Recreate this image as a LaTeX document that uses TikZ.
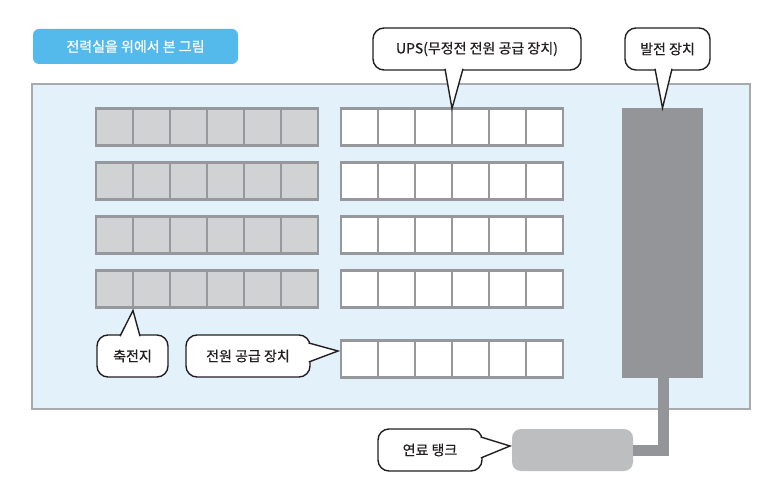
\documentclass[tikz,border=0pt]{standalone}
\usepackage{fontspec}
\setmainfont{Noto Sans CJK KR}
\newfontfamily\medfont{Noto Sans CJK KR}[FakeBold=0.7]
\usetikzlibrary{calc}
\definecolor{titleblue}{RGB}{84,186,236}
\definecolor{roomfill}{RGB}{227,241,251}
\definecolor{roomline}{RGB}{168,170,173}
\definecolor{cellgray}{RGB}{209,210,212}
\definecolor{cellline}{RGB}{151,152,155}
\definecolor{gengray}{RGB}{147,149,152}
\definecolor{tankgray}{RGB}{188,190,192}
\definecolor{inkline}{RGB}{35,31,32}
\newcommand\calltail[3]{%
  \fill[white] (#1) -- (#2) -- (#3) -- cycle;
  \draw[tailline] (#1) -- (#2) -- (#3);}
\begin{document}
\begin{tikzpicture}[x=1pt,y=-1pt,
  every node/.style={inner sep=0pt,outer sep=0pt},
  titlebox/.style={fill=titleblue,rounded corners=6pt,text=white,
    font=\medfont\fontsize{14}{16}\selectfont,minimum width=205pt,minimum height=35pt},
  room/.style={fill=roomfill,draw=roomline,line width=1.2pt},
  gcell/.style={fill=cellgray,draw=cellline,line width=2.6pt,minimum width=37pt,minimum height=37pt},
  wcell/.style={fill=white,draw=cellline,line width=2.6pt,minimum width=37pt,minimum height=37pt},
  gen/.style={fill=gengray},
  tank/.style={fill=tankgray,rounded corners=9pt},
  pipe/.style={draw=gengray,line width=11pt},
  bubble/.style={draw=inkline,line width=1.4pt,fill=white,rounded corners=11pt,
    minimum height=42pt,text=inkline,font=\medfont\fontsize{14}{16}\selectfont},
  tailline/.style={draw=inkline,line width=1.4pt,line join=miter}
]
\useasboundingbox[fill=white] (0,0) rectangle (768,494);

\node[titlebox] (title) at (135.5,46.5) {전력실을 위에서 본 그림};

\node[room,minimum width=718pt,minimum height=325pt] (room) at (391,246.5) {};

\foreach \r/\y in {1/127,2/181,3/235,4/289}{
  \foreach \c in {1,...,6}{
    \node[gcell] (g-\r-\c) at ({114.5+37*(\c-1)},\y) {};
    \node[wcell] (w-\r-\c) at ({359.5+37*(\c-1)},\y) {};
  }
}
\foreach \c in {1,...,6}{
  \node[wcell] (w-5-\c) at ({359.5+37*(\c-1)},359) {};
}

\node[gen,minimum width=81pt,minimum height=270pt] (gen) at (662.5,243) {};
\node[tank,minimum width=121pt,minimum height=42pt] (tank) at (572.5,450) {};
\draw[pipe] ($(gen.south)+(1,0)$) |- (tank.east);

\node[bubble,minimum width=208pt] (ups) at (477,49) {UPS(무정전 전원 공급 장치)};
\node[bubble,minimum width=85pt] (genlab) at (667.5,49) {발전 장치};
\node[bubble,minimum width=71pt] (bat) at (132.5,356) {축전지};
\node[bubble,minimum width=124pt] (psu) at (248,356) {전원 공급 장치};
\node[bubble,minimum width=104pt] (fuel) at (430,450) {연료 탱크};

\calltail{$(ups.south)+(-32,-1.2)$}{w-1-4.north west}{$(ups.south)+(-14,-1.2)$}
\calltail{$(genlab.south)+(-12.5,-1.2)$}{gen.north}{$(genlab.south)+(4.5,-1.2)$}
\calltail{$(bat.north)+(-12.5,1.2)$}{$(g-4-2.south west)+(0,3)$}{$(bat.north)+(7.5,1.2)$}
\calltail{$(psu.east)+(-1.2,-13)$}{$(w-5-1.west)+(-3,-8)$}{$(psu.east)+(-1.2,6)$}
\calltail{$(fuel.east)+(-1.2,-13)$}{$(tank.west)+(-2,-4)$}{$(fuel.east)+(-1.2,8)$}
\end{tikzpicture}
\end{document}
